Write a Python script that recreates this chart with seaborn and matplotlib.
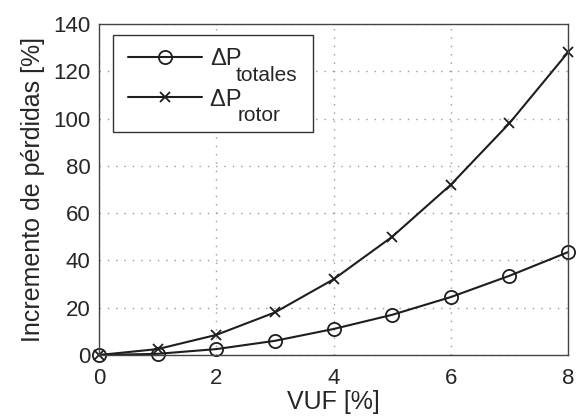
import matplotlib
matplotlib.use("Agg")
import matplotlib.pyplot as plt
from matplotlib.patches import Rectangle
import seaborn as sns
import pandas as pd

vuf = [0, 1, 2, 3, 4, 5, 6, 7, 8]
totales = [0, 0.5, 2.5, 6, 11, 17, 24.5, 33.5, 43.5]
rotor = [0, 2.5, 8.5, 18, 32, 50, 72, 98, 128]
x_ticks = [0, 2, 4, 6, 8]
y_ticks = [0, 20, 40, 60, 80, 100, 120, 140]
legend_main = ['ΔP', 'ΔP']
legend_subs = ['totales', 'rotor']

sns.set_style("white")
plt.rcParams['font.family'] = ['Liberation Sans', 'DejaVu Sans']

fig = plt.figure(figsize=(5.77, 4.18), dpi=100)
ax = fig.add_axes([0.1716, 0.1507, 0.8128, 0.7919])

df = pd.DataFrame({'VUF': vuf, 'tot': totales, 'rot': rotor})
sns.lineplot(data=df, x='VUF', y='tot', ax=ax, color='#1e1e1e', lw=1.5,
             marker='o', markersize=9.5, markerfacecolor='none',
             markeredgecolor='#1e1e1e', markeredgewidth=1.3,
             label=legend_main[0], clip_on=False)
sns.lineplot(data=df, x='VUF', y='rot', ax=ax, color='#1e1e1e', lw=1.5,
             marker='x', markersize=7.5, markeredgecolor='#1e1e1e',
             markeredgewidth=1.3,
             label=legend_main[1] + '\u200a', clip_on=False)

ax.set_xlim(0, 8)
ax.set_ylim(0, 140)
ax.set_xticks(x_ticks)
ax.set_yticks(y_ticks)
ax.tick_params(axis='both', labelsize=16, direction='in', length=4,
               color='#333333')
ax.tick_params(axis='x', pad=9)
ax.tick_params(axis='y', pad=6)
ax.grid(True, linestyle=(0, (1, 5)), color='#999999', lw=1.0)
for s in ax.spines.values():
    s.set_color('#444444')
    s.set_linewidth(1.0)
ax.set_xlabel('VUF [%]', fontsize=18, labelpad=1)
ax.set_ylabel('Incremento de pérdidas [%]', fontsize=18, labelpad=6)

# legend frame
frame = Rectangle((0.0299, 0.6737), 0.4264, 0.2931, transform=ax.transAxes,
                  facecolor='white', edgecolor='#333333', lw=1.0, zorder=4,
                  clip_on=False)
ax.add_patch(frame)

leg = ax.legend(loc='upper left', bbox_to_anchor=(0.0618, 0.927),
                fontsize=17, frameon=False, borderaxespad=0, borderpad=0,
                handlelength=3.14, labelspacing=0.78, handletextpad=0.34)
leg.set_zorder(5)

for txt, sub in zip(leg.get_texts(), legend_subs):
    ax.annotate(sub, xy=(1, 0), xycoords=txt, xytext=(-4.5, -7.8),
                textcoords='offset points', fontsize=15, ha='left',
                va='baseline', zorder=10, annotation_clip=False)

fig.savefig('out.png', dpi=100)
